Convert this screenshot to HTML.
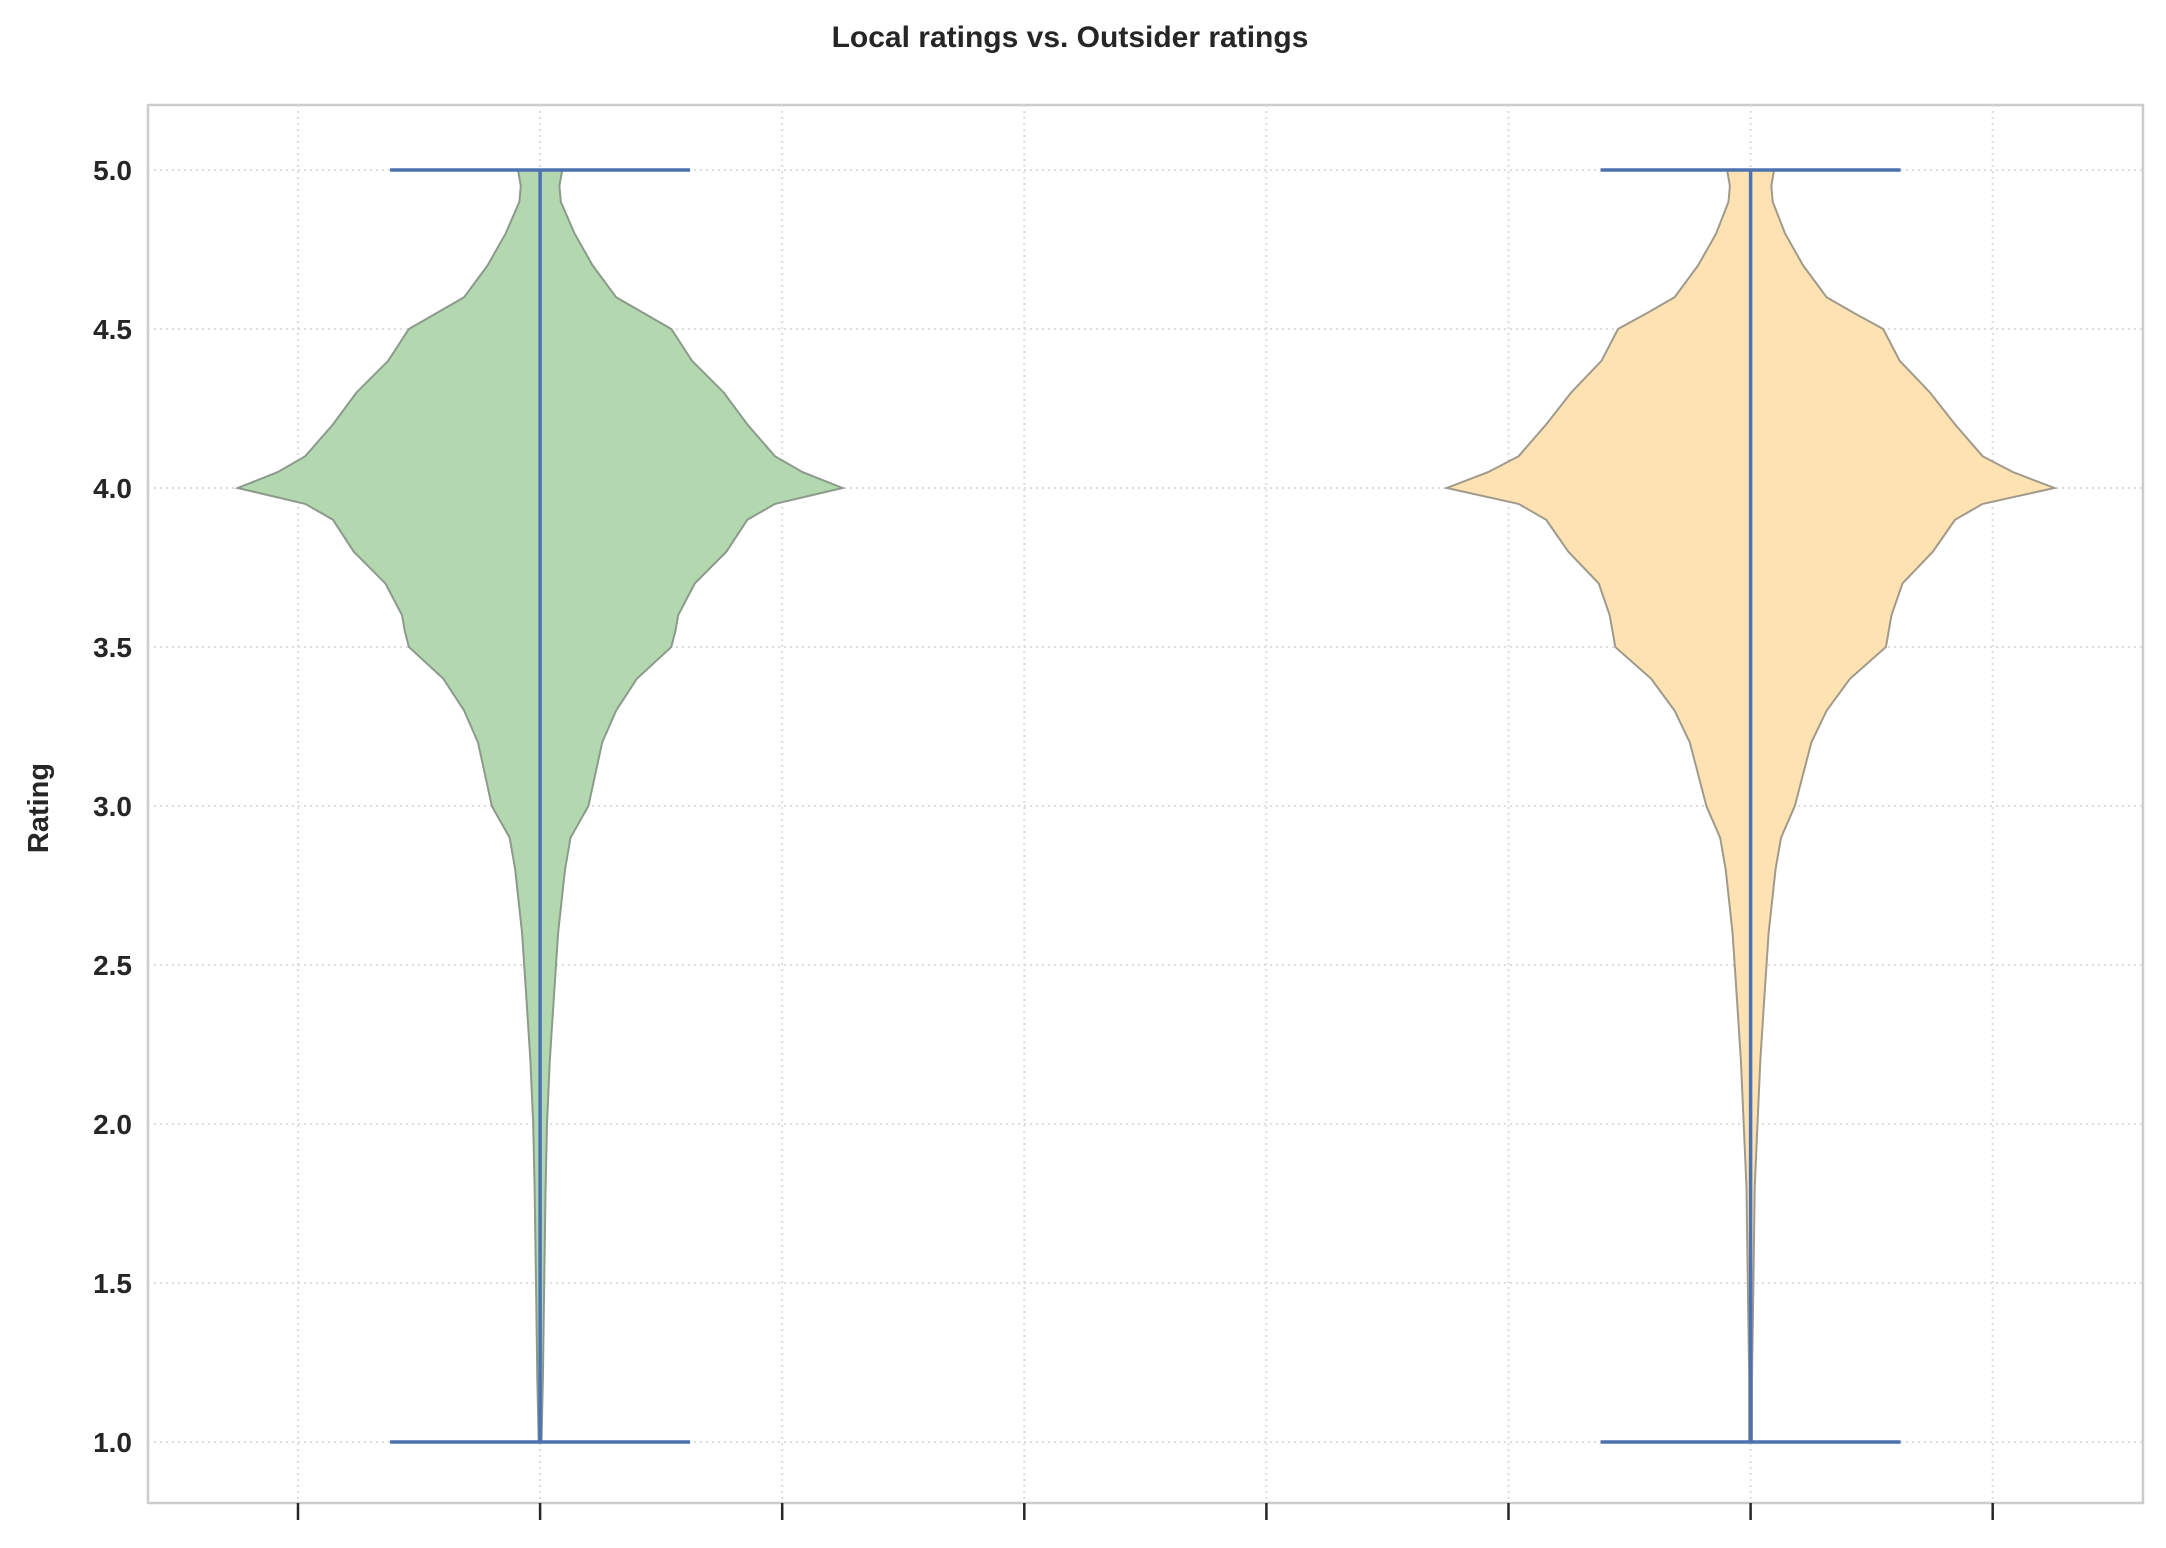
<!DOCTYPE html>
<html><head><meta charset="utf-8"><style>
html,body{margin:0;padding:0;background:#fff;}
svg text{font-family:"Liberation Sans",sans-serif;font-weight:bold;fill:#262626;}
</style></head><body>
<svg id="chart" width="2166" height="1543" viewBox="0 0 2166 1543" xmlns="http://www.w3.org/2000/svg">
<text x="1070" y="47" font-size="30" text-anchor="middle">Local ratings vs. Outsider ratings</text>
<rect x="148" y="105" width="1995" height="1398" fill="#fff" stroke="#cccccc" stroke-width="2.5"/>
<g id="grid"></g>
<g id="violins"></g>
<g id="axes"></g>
<text transform="translate(48,808) rotate(-90)" font-size="29" text-anchor="middle">Rating</text>
</svg>
<script>
const yTicks = [1.0,1.5,2.0,2.5,3.0,3.5,4.0,4.5,5.0];
const yTickLabels = ["1.0","1.5","2.0","2.5","3.0","3.5","4.0","4.5","5.0"];
const xTickCount = 8;
const groups = ["Local","Outsider"];
const groupIndex = [1,6];
const ratings = [5.0,4.95,4.9,4.8,4.7,4.6,4.55,4.5,4.4,4.3,4.2,4.1,4.05,4.0,3.95,3.9,3.8,3.7,3.6,3.55,3.5,3.4,3.3,3.2,3.1,3.0,2.9,2.8,2.6,2.4,2.2,2.0,1.8,1.5,1.2,1.0];
const localDensity = [16,14,15,25,38,55,75,95,110,133,150,170,190,219,170,150,135,112,100,98,95,70,55,45,40,35,22,18,13,10,7,5,4,3,2,1];
const outsiderDensity = [17,15,16,25,38,55,75,96,108,130,148,168,190,220,168,148,132,110,102,100,98,72,55,44,38,32,22,18,13,10,7,5,3,2,1,1];
const colors = ["#b3d8b0","#fee2b2"];

const svgNS = "http://www.w3.org/2000/svg";
const X0 = 298, XSTEP = 242.1;
const xPos = i => X0 + i*XSTEP;
const yPos = v => 1442 - (v-1)*318;
const wScale = 1.381;
function mk(tag, attrs, parent){const e=document.createElementNS(svgNS,tag);for(const k in attrs)e.setAttribute(k,attrs[k]);parent.appendChild(e);return e;}
const grid=document.getElementById('grid'), vg=document.getElementById('violins'), ax=document.getElementById('axes');
yTicks.forEach((t,i)=>{
  const l=mk('line',{x1:148,x2:2143,y1:yPos(t),y2:yPos(t),stroke:'#dddddd','stroke-width':2,'stroke-dasharray':'2,4'},grid);
  
  
  const tx=mk('text',{x:132,y:yPos(t)+10,'font-size':28,'text-anchor':'end'},ax);
  tx.textContent=yTickLabels[i];
  
  
});
for(let i=0;i<xTickCount;i++){
  const l=mk('line',{x1:xPos(i),x2:xPos(i),y1:105,y2:1503,stroke:'#dddddd','stroke-width':2,'stroke-dasharray':'2,4'},grid);
  
  
  const t=mk('line',{x1:xPos(i),x2:xPos(i),y1:1503,y2:1520,stroke:'#262626','stroke-width':2.5},ax);
  
  
}
const dens=[localDensity,outsiderDensity];
groups.forEach((g,gi)=>{
  const cx=xPos(groupIndex[gi]);
  const d=dens[gi];
  let pts=ratings.map((r,k)=>[cx+d[k]*wScale,yPos(r)]);
  let left=ratings.map((r,k)=>[cx-d[k]*wScale,yPos(r)]).reverse();
  const all=pts.concat(left);
  const p=mk('path',{d:'M'+all.map(q=>q[0].toFixed(1)+','+q[1].toFixed(1)).join('L')+'Z',fill:colors[gi],stroke:'#8c9a8c','stroke-width':2},vg);
  if(gi===1)p.setAttribute('stroke','#a09a8c');
  
  
  const lineAttrs={stroke:'#4c72b0','stroke-width':3.5};
  const v=mk('line',Object.assign({x1:cx,x2:cx,y1:yPos(5),y2:yPos(1)},lineAttrs),vg);
  
  
  const top=mk('line',Object.assign({x1:cx-150,x2:cx+150,y1:yPos(5),y2:yPos(5)},lineAttrs),vg);
  
  
  const bot=mk('line',Object.assign({x1:cx-150,x2:cx+150,y1:yPos(1),y2:yPos(1)},lineAttrs),vg);
  
  
});
</script>
</body></html>
